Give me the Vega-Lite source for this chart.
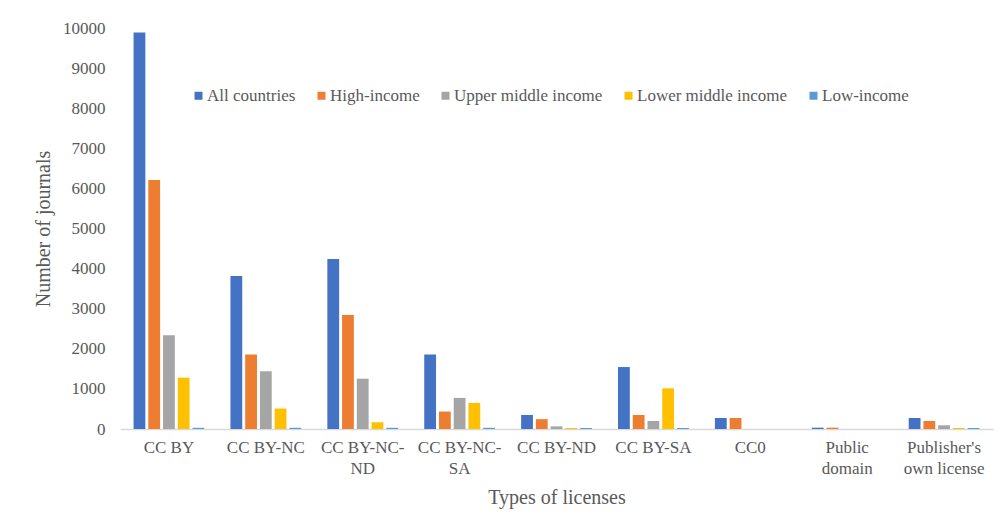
{
  "$schema": "https://vega.github.io/schema/vega-lite/v6.json",
  "width": 873,
  "height": 401,
  "autosize": "none",
  "padding": {"left": 120, "top": 28, "right": 11, "bottom": 98},
  "background": "white",
  "config": {
    "view": {"stroke": null},
    "font": "Liberation Serif",
    "axis": {"labelFont": "Liberation Serif", "titleFont": "Liberation Serif", "labelColor": "#595959", "titleColor": "#595959", "titleFontWeight": "normal"},
    "legend": {"labelFont": "Liberation Serif", "labelColor": "#595959"}
  },
  "data": {
    "values": [
      {"license": "CC BY", "group": "All countries", "value": 9890},
      {"license": "CC BY", "group": "High-income", "value": 6210},
      {"license": "CC BY", "group": "Upper middle income", "value": 2340},
      {"license": "CC BY", "group": "Lower middle income", "value": 1280},
      {"license": "CC BY", "group": "Low-income", "value": 30},
      {"license": "CC BY-NC", "group": "All countries", "value": 3815},
      {"license": "CC BY-NC", "group": "High-income", "value": 1860},
      {"license": "CC BY-NC", "group": "Upper middle income", "value": 1440},
      {"license": "CC BY-NC", "group": "Lower middle income", "value": 510},
      {"license": "CC BY-NC", "group": "Low-income", "value": 30},
      {"license": "CC BY-NC-ND", "group": "All countries", "value": 4240},
      {"license": "CC BY-NC-ND", "group": "High-income", "value": 2840},
      {"license": "CC BY-NC-ND", "group": "Upper middle income", "value": 1255},
      {"license": "CC BY-NC-ND", "group": "Lower middle income", "value": 170},
      {"license": "CC BY-NC-ND", "group": "Low-income", "value": 30},
      {"license": "CC BY-NC-SA", "group": "All countries", "value": 1860},
      {"license": "CC BY-NC-SA", "group": "High-income", "value": 435},
      {"license": "CC BY-NC-SA", "group": "Upper middle income", "value": 775},
      {"license": "CC BY-NC-SA", "group": "Lower middle income", "value": 650},
      {"license": "CC BY-NC-SA", "group": "Low-income", "value": 30},
      {"license": "CC BY-ND", "group": "All countries", "value": 350},
      {"license": "CC BY-ND", "group": "High-income", "value": 245},
      {"license": "CC BY-ND", "group": "Upper middle income", "value": 65},
      {"license": "CC BY-ND", "group": "Lower middle income", "value": 25},
      {"license": "CC BY-ND", "group": "Low-income", "value": 25},
      {"license": "CC BY-SA", "group": "All countries", "value": 1545},
      {"license": "CC BY-SA", "group": "High-income", "value": 350},
      {"license": "CC BY-SA", "group": "Upper middle income", "value": 200},
      {"license": "CC BY-SA", "group": "Lower middle income", "value": 1015},
      {"license": "CC BY-SA", "group": "Low-income", "value": 25},
      {"license": "CC0", "group": "All countries", "value": 275},
      {"license": "CC0", "group": "High-income", "value": 275},
      {"license": "CC0", "group": "Upper middle income", "value": 0},
      {"license": "CC0", "group": "Lower middle income", "value": 0},
      {"license": "CC0", "group": "Low-income", "value": 0},
      {"license": "Public domain", "group": "All countries", "value": 33},
      {"license": "Public domain", "group": "High-income", "value": 33},
      {"license": "Public domain", "group": "Upper middle income", "value": 0},
      {"license": "Public domain", "group": "Lower middle income", "value": 0},
      {"license": "Public domain", "group": "Low-income", "value": 0},
      {"license": "Publisher's own license", "group": "All countries", "value": 275},
      {"license": "Publisher's own license", "group": "High-income", "value": 200},
      {"license": "Publisher's own license", "group": "Upper middle income", "value": 92},
      {"license": "Publisher's own license", "group": "Lower middle income", "value": 25},
      {"license": "Publisher's own license", "group": "Low-income", "value": 25}
    ]
  },
  "mark": {"type": "bar"},
  "encoding": {
    "x": {
      "field": "license", "type": "nominal",
      "sort": ["CC BY", "CC BY-NC", "CC BY-NC-ND", "CC BY-NC-SA", "CC BY-ND", "CC BY-SA", "CC0", "Public domain", "Publisher's own license"],
      "scale": {"paddingInner": 0.27, "paddingOuter": 0.14},
      "axis": {
        "title": "Types of licenses", "titleFontSize": 20, "titlePadding": 11,
        "labelAngle": 0, "labelFontSize": 17, "labelPadding": 10, "labelLineHeight": 21,
        "labelOverlap": false,
        "labelExpr": "datum.value == 'CC BY-NC-ND' ? ['CC BY-NC-', 'ND'] : datum.value == 'CC BY-NC-SA' ? ['CC BY-NC-', 'SA'] : datum.value == 'Public domain' ? ['Public', 'domain'] : datum.value == \"Publisher's own license\" ? [\"Publisher's\", 'own license'] : datum.value",
        "ticks": false, "domainColor": "#D9D9D9", "domainWidth": 1.5, "grid": false
      }
    },
    "xOffset": {
      "field": "group", "type": "nominal",
      "sort": ["All countries", "High-income", "Upper middle income", "Lower middle income", "Low-income"],
      "scale": {"paddingInner": 0.2}
    },
    "y": {
      "field": "value", "type": "quantitative",
      "scale": {"domain": [0, 10000], "nice": false},
      "axis": {
        "title": "Number of journals", "titleFontSize": 20, "titlePadding": 9,
        "labelFontSize": 17, "labelPadding": 15, "format": "d", "labelOverlap": false,
        "values": [0,1000,2000,3000,4000,5000,6000,7000,8000,9000,10000],
        "ticks": false, "domain": false, "grid": false
      }
    },
    "color": {
      "field": "group", "type": "nominal",
      "sort": ["All countries", "High-income", "Upper middle income", "Lower middle income", "Low-income"],
      "scale": {"range": ["#4472C4", "#ED7D31", "#A5A5A5", "#FFC000", "#5B9BD5"]},
      "legend": {
        "title": null, "orient": "none", "direction": "horizontal", "columns": 5,
        "legendX": 70, "legendY": 59, "symbolType": "square", "symbolSize": 64,
        "symbolStrokeWidth": 0, "labelFontSize": 17, "labelOffset": 0, "columnPadding": 17
      }
    }
  }
}
